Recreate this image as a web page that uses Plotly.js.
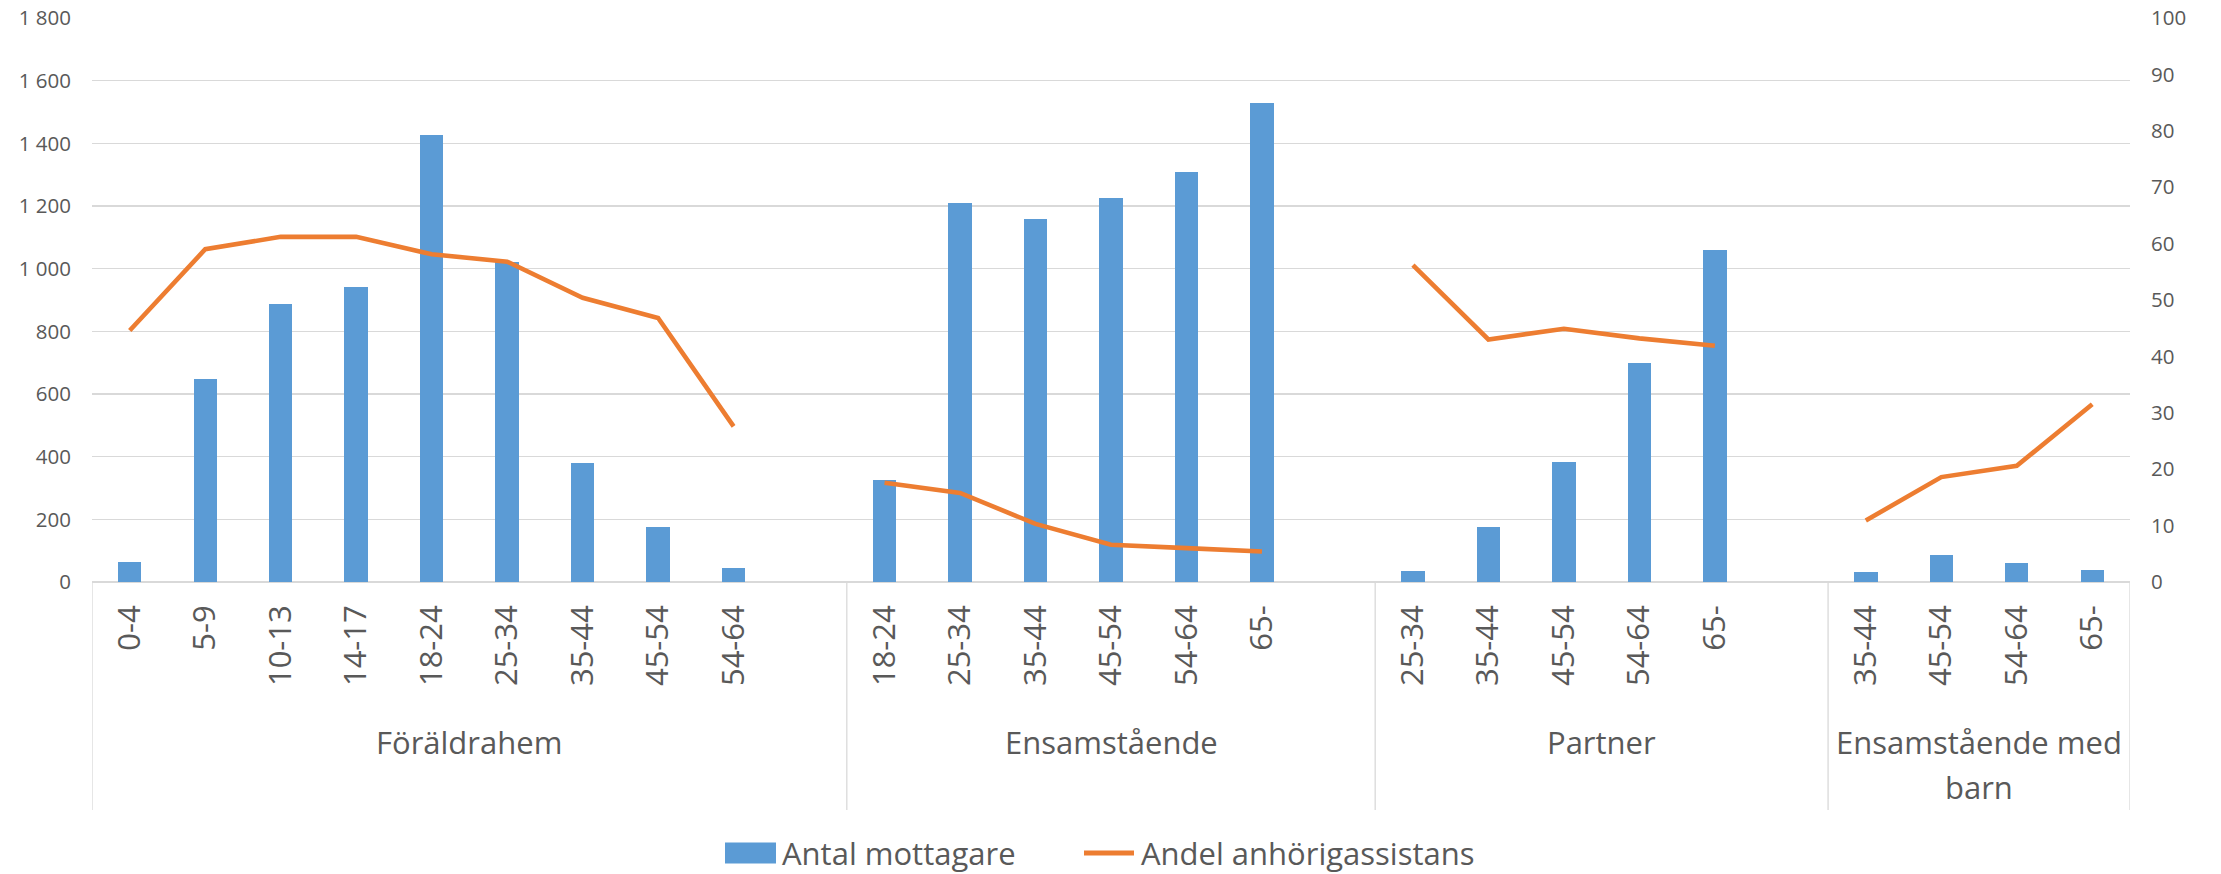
<!DOCTYPE html>
<html>
<head>
<meta charset="utf-8">
<script src="https://cdn.plot.ly/plotly-3.0.1.min.js"></script>
<style>
  html, body { margin: 0; padding: 0; background: #ffffff; }
  #chart { width: 2221px; height: 874px; }
</style>
</head>
<body>
<div id="chart"></div>
<script>
// ---- Data ----
const groupNames = ['Föräldrahem', 'Ensamstående', 'Partner', 'Ensamstående med barn'];
const groupLabelLines = [['Föräldrahem'], ['Ensamstående'], ['Partner'], ['Ensamstående med', 'barn']];

const agesForaldrahem = ['0-4', '5-9', '10-13', '14-17', '18-24', '25-34', '35-44', '45-54', '54-64'];
const antalForaldrahem = [63, 647, 887, 940, 1426, 1021, 380, 176, 45];
const andelForaldrahem = [44.6, 59.0, 61.2, 61.2, 58.1, 56.8, 50.4, 46.8, 27.6];

const agesEnsam = ['18-24', '25-34', '35-44', '45-54', '54-64', '65-'];
const antalEnsam = [327, 1208, 1159, 1227, 1308, 1528];
const andelEnsam = [17.6, 15.8, 10.3, 6.6, 6.0, 5.4];

const agesPartner = ['25-34', '35-44', '45-54', '54-64', '65-'];
const antalPartner = [35, 175, 383, 700, 1061];
const andelPartner = [56.2, 43.0, 44.9, 43.2, 41.9];

const agesEnsamBarn = ['35-44', '45-54', '54-64', '65-'];
const antalEnsamBarn = [32, 85, 61, 37];
const andelEnsamBarn = [10.9, 18.6, 20.6, 31.5];

const seriesNames = ['Antal mottagare', 'Andel anhörigassistans'];

// ---- Build positions (one empty slot after each group except the last) ----
const groupAges = [agesForaldrahem, agesEnsam, agesPartner, agesEnsamBarn];
const groupAntal = [antalForaldrahem, antalEnsam, antalPartner, antalEnsamBarn];
const groupAndel = [andelForaldrahem, andelEnsam, andelPartner, andelEnsamBarn];

const barX = [], barY = [], lineX = [], lineY = [], tickVals = [], tickText = [];
const bounds = [-0.5];
const centers = [];
let pos = 0;
groupAges.forEach((ages, gi) => {
  const start = pos - 0.5;
  ages.forEach((a, i) => {
    barX.push(pos); barY.push(groupAntal[gi][i]);
    lineX.push(pos); lineY.push(groupAndel[gi][i]);
    tickVals.push(pos); tickText.push(a);
    pos++;
  });
  if (gi < groupAges.length - 1) {
    lineX.push(pos); lineY.push(null);
    pos++;
  }
  const end = pos - 0.5;
  bounds.push(end);
  centers.push((start + end) / 2);
});
const xMax = pos - 0.5;

// ---- Geometry helpers ----
const W = 2221, H = 874;
const mL = 92, mR = 91, mT = 18, mB = 292;
const plotW = W - mL - mR, plotH = H - mT - mB;
const plotBottom = H - mB;
const py = (p) => (plotBottom - p) / plotH;      // pixel y -> paper y
const px = (p) => (p - mL) / plotW;              // pixel x -> paper x

const textColor = '#595959';
const gridColor = '#d9d9d9';
const fontFam = '"Open Sans", "Noto Sans", sans-serif';

const traces = [
  {
    type: 'bar', name: seriesNames[0],
    x: barX, y: barY, width: 0.31,
    marker: { color: '#5b9bd5' },
    yaxis: 'y', showlegend: false
  },
  {
    type: 'scatter', mode: 'lines', name: seriesNames[1],
    x: lineX, y: lineY, connectgaps: false,
    line: { color: '#ed7d31', width: 4.6 },
    yaxis: 'y2', showlegend: false
  }
];

const shapes = bounds.map(b => ({
  type: 'line', xref: 'x', yref: 'paper',
  x0: b, x1: b, y0: 0, y1: py(810),
  line: { color: gridColor, width: 1.3 }
}));

// custom legend
const legY = 853;
shapes.push({
  type: 'rect', xref: 'paper', yref: 'paper',
  x0: px(725), x1: px(776), y0: py(legY + 10.5), y1: py(legY - 10.5),
  fillcolor: '#5b9bd5', line: { width: 0 }
});
shapes.push({
  type: 'line', xref: 'paper', yref: 'paper',
  x0: px(1084), x1: px(1134), y0: py(legY), y1: py(legY),
  line: { color: '#ed7d31', width: 5 }
});

const annotations = [];
groupLabelLines.forEach((lines, gi) => {
  lines.forEach((t, li) => {
    annotations.push({
      xref: 'x', yref: 'paper', x: centers[gi], y: py(742 + li * 45),
      text: t, showarrow: false, xanchor: 'center', yanchor: 'middle',
      font: { size: 31, color: textColor, family: fontFam }
    });
  });
});
annotations.push({
  xref: 'paper', yref: 'paper', x: px(781), y: py(legY),
  text: seriesNames[0], showarrow: false, xanchor: 'left', yanchor: 'middle',
  borderpad: 0,
  font: { size: 31, color: textColor, family: fontFam }
});
annotations.push({
  xref: 'paper', yref: 'paper', x: px(1140), y: py(legY),
  text: seriesNames[1], showarrow: false, xanchor: 'left', yanchor: 'middle',
  borderpad: 0,
  font: { size: 31, color: textColor, family: fontFam }
});

const layout = {
  width: W, height: H,
  margin: { l: mL, r: mR, t: mT, b: mB, pad: 0 },
  paper_bgcolor: '#ffffff', plot_bgcolor: '#ffffff',
  font: { family: fontFam, color: textColor },
  separators: ', ',
  bargap: 0,
  xaxis: {
    range: [-0.5, xMax], tickmode: 'array', tickvals: tickVals, ticktext: tickText,
    tickangle: -90, tickfont: { size: 31, color: textColor, family: fontFam },
    showgrid: false, zeroline: false, showline: false, ticks: '',
    ticklabelstandoff: 16, automargin: false, fixedrange: true
  },
  yaxis: {
    range: [0, 1800], tick0: 0, dtick: 200, separatethousands: true,
    showgrid: true, gridcolor: gridColor, gridwidth: 1.3,
    zeroline: true, zerolinecolor: gridColor, zerolinewidth: 1.5,
    showline: false, ticks: '',
    tickfont: { size: 20.5, color: textColor, family: fontFam },
    ticklabelstandoff: 20, automargin: false, fixedrange: true
  },
  yaxis2: {
    range: [0, 100], tick0: 0, dtick: 10, overlaying: 'y', side: 'right',
    showgrid: false, zeroline: false, showline: false, ticks: '',
    tickfont: { size: 20.5, color: textColor, family: fontFam },
    ticklabelstandoff: 20, automargin: false, fixedrange: true
  },
  shapes: shapes,
  annotations: annotations,
  showlegend: false
};

Plotly.newPlot('chart', traces, layout, { displayModeBar: false, staticPlot: true });
</script>
</body>
</html>
